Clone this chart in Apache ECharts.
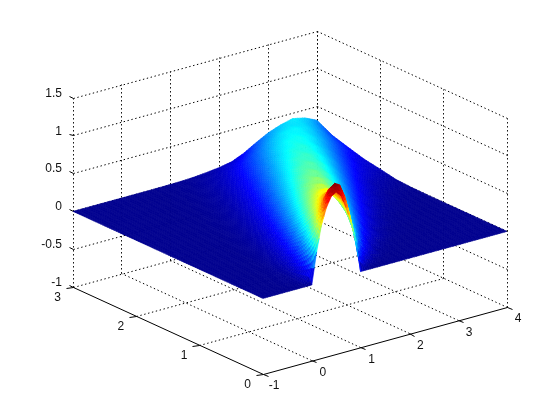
<!DOCTYPE html>
<html>
<head>
<meta charset="utf-8">
<style>html,body{margin:0;padding:0;background:#fff}#c{width:560px;height:420px}</style>
<script src="https://cdn.jsdelivr.net/npm/echarts@6/dist/echarts.min.js"></script>
</head>
<body>
<div id="c"></div>
<script>
// tick labels
const xTicks = [-1, 0, 1, 2, 3, 4];
const yTicks = [0, 1, 2, 3];
const zTicks = [-1, -0.5, 0, 0.5, 1, 1.5];

// surface sample positions
const xCols = [-1,-0.5,-0.2,-0.1,0,0.1,0.2,0.3,0.4,0.5,0.6,0.7,0.8,0.9,1,1.1,1.2,1.3,1.5,1.75,2,2.25,2.5,2.75,3,3.25,3.5,3.75,4];
const yRows = [0,0.05,0.1,0.2,0.35,0.5,0.75,1,1.25,1.5,1.75,2,2.25,2.5,2.75,3];

// surface heights, one list per y row
const zY000 = [0,0,0,0,0,.42,.76,.97,1.1,1.14,1.07,.9,.7,.42,0,0,0,0,0,0,0,0,0,0,0,0,0,0,0];
const zY005 = [0,0,.001,.012,.083,.296,.609,.896,1.08,1.17,1.18,1.07,.86,.58,.27,.079,.011,.001,0,0,0,0,0,0,0,0,0,0,0];
const zY010 = [0,0,.003,.019,.08,.228,.469,.737,.98,1.15,1.2,1.16,1.0,.75,.45,.217,.074,.017,0,0,0,0,0,0,0,0,0,0,0];
const zY020 = [0,0,.007,.02,.063,.152,.299,.501,.73,.94,1.08,1.12,1.08,.94,.72,.471,.279,.138,.017,.001,0,0,0,0,0,0,0,0,0];
const zY035 = [0,0,.006,.016,.039,.087,.167,.285,.438,.607,.769,.892,.96,.96,.88,.739,.575,.404,.148,.021,.002,0,0,0,0,0,0,0,0];
const zY050 = [0,0,.006,.013,.027,.053,.097,.163,.258,.378,.515,.655,.775,.852,.875,.835,.742,.614,.339,.108,.022,.003,0,0,0,0,0,0,0];
const zY075 = [0,0,.003,.006,.013,.025,.044,.074,.12,.183,.262,.36,.466,.572,.665,.732,.763,.754,.627,.366,.153,.046,.01,.001,0,0,0,0,0];
const zY100 = [0,0,.002,.003,.006,.012,.021,.035,.057,.088,.132,.188,.258,.338,.424,.508,.585,.643,.684,.578,.372,.183,.069,.019,.004,.001,0,0,0];
const zY125 = [0,0,.001,.002,.003,.006,.01,.017,.028,.044,.066,.098,.139,.19,.251,.319,.39,.462,.58,.628,.542,.373,.203,.089,.031,.009,.002,0,0];
const zY150 = [0,0,0,.001,.002,.003,.005,.008,.013,.021,.033,.05,.073,.103,.14,.187,.24,.299,.424,.548,.583,.51,.368,.218,.107,.043,.014,.006,.003];
const zY175 = [0,0,0,0,.001,.001,.002,.004,.007,.011,.017,.025,.038,.054,.077,.106,.141,.183,.283,.418,.522,.548,.485,.362,.228,.12,.054,.03,.015];
const zY200 = [0,0,0,0,0,.001,.001,.002,.003,.005,.008,.013,.02,.029,.041,.058,.079,.107,.176,.291,.41,.498,.518,.462,.355,.234,.135,.08,.055];
const zY225 = [0,0,0,0,0,0,0,.001,.002,.003,.004,.007,.01,.015,.022,.032,.044,.061,.107,.19,.295,.402,.475,.49,.44,.344,.235,.14,.09];
const zY250 = [0,0,0,0,0,0,0,0,0,.001,.002,.003,.005,.008,.011,.017,.024,.033,.062,.118,.2,.298,.392,.456,.467,.423,.338,.238,.148];
const zY275 = [0,0,0,0,0,0,0,0,0,0,0,.002,.003,.004,.006,.009,.012,.018,.035,.065,.125,.2,.285,.37,.43,.445,.405,.325,.21];
const zY300 = [0,0,0,0,0,0,0,0,0,0,0,.001,.001,.002,.003,.004,.006,.008,.015,.03,.05,.08,.15,.245,.33,.39,.43,.395,.32];
const zRows = [zY000,zY005,zY010,zY020,zY035,zY050,zY075,zY100,zY125,zY150,zY175,zY200,zY225,zY250,zY275,zY300];

const zColorMax = 1.2;
const jetStops = [[0,0,0,143],[0.125,0,0,255],[0.375,0,255,255],[0.625,255,255,0],[0.875,255,0,0],[1,128,0,0]];

// axes box, projected to the page
const xLim = [-1, 4], yLim = [0, 3], zLim = [-1, 1.5];
const view = {ox: 263, oy: 374, xv: [48.8, -13.4], yv: [-63.33, -29], zv: [0, -75.6]};
function project(x, y, z) {
  const a = x - xLim[0], b = y - yLim[0], c = z - zLim[0];
  return [view.ox + a * view.xv[0] + b * view.yv[0], view.oy + a * view.xv[1] + b * view.yv[1] + c * view.zv[1]];
}
function jet(v) {
  const t = Math.max(0, Math.min(1, v / zColorMax));
  for (let i = 1; i < jetStops.length; i++) {
    if (t <= jetStops[i][0]) {
      const a = jetStops[i - 1], b = jetStops[i], f = (t - a[0]) / (b[0] - a[0]);
      return 'rgb(' + [1, 2, 3].map(k => Math.round(a[k] + (b[k] - a[k]) * f)).join(',') + ')';
    }
  }
  return 'rgb(128,0,0)';
}
// shading mesh between the read samples (like shading interp)
function refine(list, step) {
  const out = [];
  for (let i = 0; i < list.length - 1; i++) {
    const n = Math.max(1, Math.ceil((list[i + 1] - list[i]) / step - 1e-9));
    for (let k = 0; k < n; k++) out.push({i, f: k / n, v: list[i] + (list[i + 1] - list[i]) * k / n});
  }
  out.push({i: list.length - 2, f: 1, v: list[list.length - 1]});
  return out;
}
const fx = refine(xCols, 0.05), fy = refine(yRows, 0.04);
function heightAt(px, py) {
  const r0 = zRows[py.i], r1 = zRows[py.i + 1];
  const a = r0[px.i] + (r0[px.i + 1] - r0[px.i]) * px.f;
  const b = r1[px.i] + (r1[px.i + 1] - r1[px.i]) * px.f;
  return a + (b - a) * py.f;
}
const cells = [];
for (let j = fy.length - 2; j >= 0; j--) for (let i = fx.length - 2; i >= 0; i--) cells.push([i, j]);

// grid segments: [x0,y0,z0,x1,y1,z1]
const gridSegs = [];
xTicks.forEach(x => {
  gridSegs.push([x, yLim[1], zLim[0], x, yLim[1], zLim[1]]);
  if (x !== xLim[0]) gridSegs.push([x, yLim[0], zLim[0], x, yLim[1], zLim[0]]);
});
yTicks.forEach(y => {
  gridSegs.push([xLim[1], y, zLim[0], xLim[1], y, zLim[1]]);
  if (y !== yLim[0]) gridSegs.push([xLim[0], y, zLim[0], xLim[1], y, zLim[0]]);
});
zTicks.forEach(z => {
  if (z !== zLim[0]) {
    gridSegs.push([xLim[0], yLim[1], z, xLim[1], yLim[1], z]);
    gridSegs.push([xLim[1], yLim[0], z, xLim[1], yLim[1], z]);
  }
});
const axisSegs = [
  [xLim[0], yLim[0], zLim[0], xLim[1], yLim[0], zLim[0]],
  [xLim[0], yLim[0], zLim[0], xLim[0], yLim[1], zLim[0]]
];
xTicks.forEach(x => axisSegs.push([x, yLim[0], zLim[0], x, yLim[0] - 0.08, zLim[0]]));
yTicks.forEach(y => axisSegs.push([xLim[0], y, zLim[0], xLim[0] - 0.14, y, zLim[0]]));
zTicks.forEach(z => axisSegs.push([xLim[0], yLim[1], z, xLim[0], yLim[1] + 0.06, z]));

const labels = [];
xTicks.forEach(x => labels.push({p: [x, yLim[0], zLim[0]], t: String(x), dx: 11, dy: 12, a: 'center'}));
yTicks.forEach(y => labels.push({p: [xLim[0], y, zLim[0]], t: String(y), dx: -15.5, dy: 10.5, a: 'center'}));
zTicks.forEach(z => labels.push({p: [xLim[0], yLim[1], z], t: String(z), dx: -11, dy: -4.5, a: 'right'}));

const snap = v => Math.round(v - 0.5) + 0.5;
function lines(segs, dash, z) {
  return {type: 'custom', coordinateSystem: 'cartesian2d', silent: true, animation: false, z,
    data: segs.map((s, i) => [i]),
    renderItem(params, api) {
      const s = segs[params.dataIndex];
      const a = api.coord(project(s[0], s[1], s[2])), b = api.coord(project(s[3], s[4], s[5]));
      return {type: 'line', shape: {x1: snap(a[0]), y1: snap(a[1]), x2: snap(b[0]), y2: snap(b[1])},
        style: {stroke: '#000', lineWidth: 1, lineDash: dash, fill: null}};
    }};
}
const chart = echarts.init(document.getElementById('c'), null, {renderer: 'canvas'});
chart.setOption({
  animation: false,
  backgroundColor: '#fff',
  grid: {left: 0, right: 0, top: 0, bottom: 0},
  xAxis: {type: 'value', min: 0, max: 560, show: false},
  yAxis: {type: 'value', min: 0, max: 420, inverse: true, show: false},
  series: [
    lines(gridSegs, [1.4, 2.6], 1),
    lines(axisSegs, null, 2),
    {type: 'custom', coordinateSystem: 'cartesian2d', silent: true, animation: false, z: 3,
     progressive: 0,
     data: cells,
     renderItem(params, api) {
       const c = cells[params.dataIndex], i = c[0], j = c[1];
       const a = fx[i], b = fx[i + 1], e = fy[j], f = fy[j + 1];
       const zs = [heightAt(a, e), heightAt(b, e), heightAt(b, f), heightAt(a, f)];
       const pts = [project(a.v, e.v, zs[0]), project(b.v, e.v, zs[1]), project(b.v, f.v, zs[2]), project(a.v, f.v, zs[3])].map(p => api.coord(p));
       const col = jet((zs[0] + zs[1] + zs[2] + zs[3]) / 4);
       return {type: 'polygon', shape: {points: pts}, style: {fill: col, stroke: col, lineWidth: 0.6}};
     }},
    {type: 'custom', coordinateSystem: 'cartesian2d', silent: true, animation: false, z: 4,
     data: labels.map((l, i) => [i]),
     renderItem(params, api) {
       const l = labels[params.dataIndex];
       const p = api.coord(project(l.p[0], l.p[1], l.p[2]));
       return {type: 'text', style: {text: l.t, x: p[0] + l.dx, y: p[1] + l.dy, align: l.a, verticalAlign: 'middle',
         fill: '#111', font: '12px "Liberation Sans", Arial, sans-serif'}};
     }}
  ]
});
</script>
</body>
</html>
